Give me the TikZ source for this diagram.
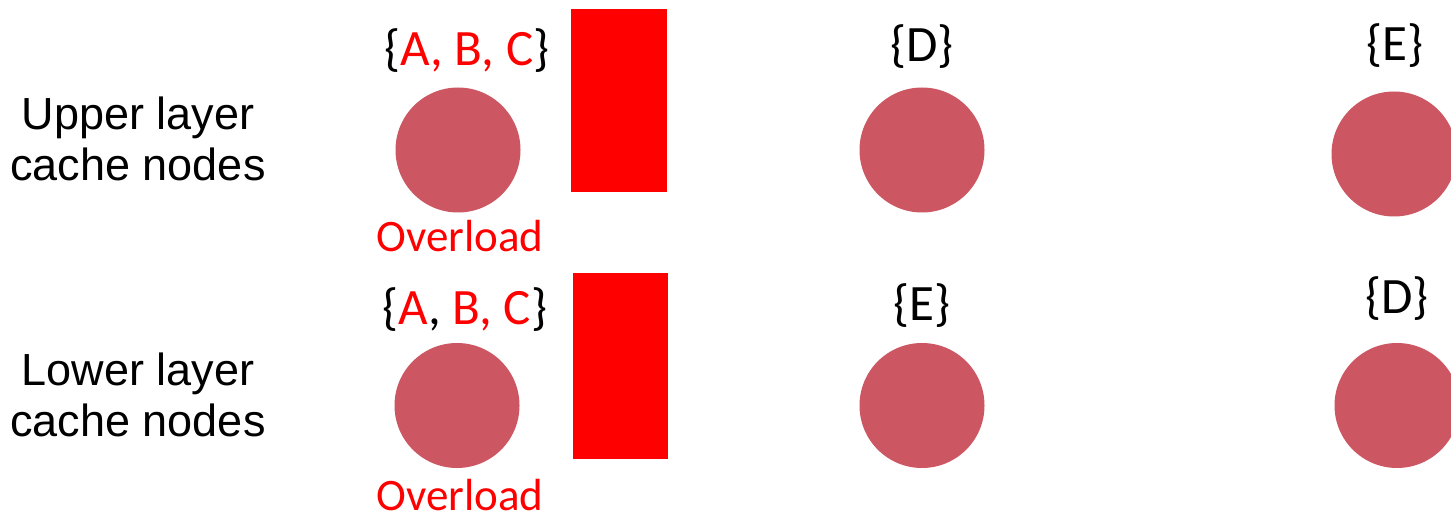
\documentclass[tikz,border=0pt]{standalone}
\usepackage{fontspec}
\setmainfont{Carlito}
\newfontfamily\labelfont{Liberation Sans}
\definecolor{nodered}{RGB}{204,86,98}
\definecolor{hotred}{RGB}{255,0,0}
\begin{document}
\begin{tikzpicture}[x=1pt, y=-1pt,
        cachenode/.style={circle, fill=nodered, minimum size=125pt, inner sep=0pt},
        hotbar/.style={fill=hotred, inner sep=0pt},
        keyset/.style={font=\fontsize{51}{55}\selectfont, inner sep=0pt, anchor=base},
        warn/.style={font=\fontsize{45}{50}\selectfont, text=hotred, inner sep=0pt, anchor=base},
        layer/.style={font=\labelfont\fontsize{45}{51}\selectfont, align=center, inner sep=0pt, anchor=base}]
            \useasboundingbox (0,0) rectangle (1451,518);
            \clip (0,0) rectangle (1451,518);
            % layer labels
            \node[layer] (upperlbl) at (138,181) {Upper layer\\cache nodes};
            \node[layer] (lowerlbl) at (138,436) {Lower layer\\cache nodes};
            % upper layer
            \node[cachenode] (u1) at (458,150) {};
            \node[cachenode] (u2) at (922,150) {};
            \node[cachenode] (u3) at (1394,154) {};
            \node[hotbar, minimum width=96pt, minimum height=183pt] (ubar) at (619,100.5) {};
            \node[keyset] (uk1) at (467,66) {\{\textcolor{hotred}{A, B, C}\}};
            \node[keyset] (uk2) at (922,62) {\{D\}};
            \node[keyset] (uk3) at (1395,61) {\{E\}};
            \node[warn] (uwarn) at (460,252) {Overload};
            % lower layer
            \node[cachenode] (l1) at (457,405.5) {};
            \node[cachenode] (l2) at (922,405.5) {};
            \node[cachenode] (l3) at (1397,405.5) {};
            \node[hotbar, minimum width=95pt, minimum height=186pt] (lbar) at (620.5,366) {};
            \node[keyset] (lk1) at (465,325) {\{\textcolor{hotred}{A}, \textcolor{hotred}{B, C}\}};
            \node[keyset] (lk2) at (922,321) {\{E\}};
            \node[keyset] (lk3) at (1397,314) {\{D\}};
            \node[warn] (lwarn) at (460,510) {Overload};
\end{tikzpicture}
\end{document}
